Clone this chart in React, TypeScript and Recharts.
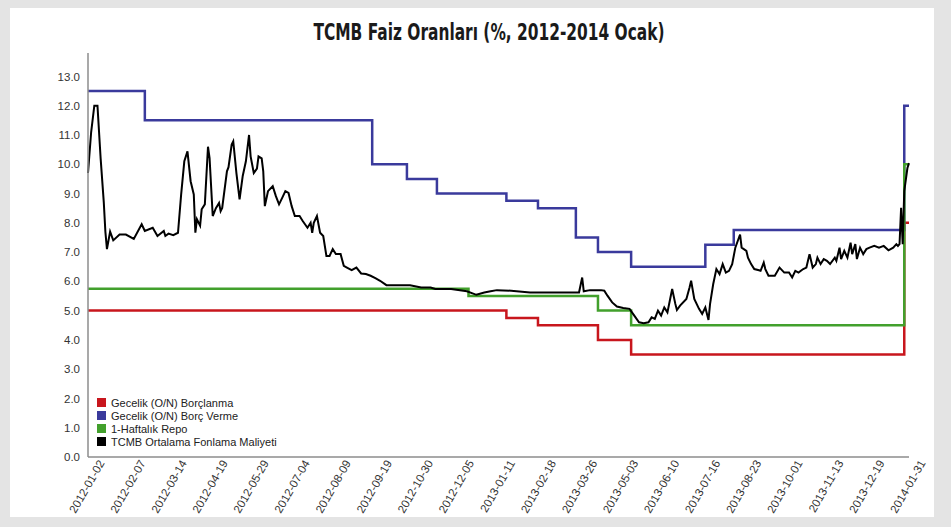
import { LineChart, Line, XAxis, YAxis } from "recharts";

// x is the business-day index from 2012-01-02 (0) to 2014-01-31 (520)
const TICK_INDEX = [0, 26, 52, 78, 104, 130, 156, 182, 208, 234, 260, 286, 312, 338, 364, 390, 416, 442, 468, 494, 520];
const TICK_LABELS = [
  "2012-01-02", "2012-02-07", "2012-03-14", "2012-04-19", "2012-05-29", "2012-07-04",
  "2012-08-09", "2012-09-19", "2012-10-30", "2012-12-05", "2013-01-11", "2013-02-18",
  "2013-03-26", "2013-05-03", "2013-06-10", "2013-07-16", "2013-08-23", "2013-10-01",
  "2013-11-13", "2013-12-19", "2014-01-31",
];
const Y_TICKS = [0, 1, 2, 3, 4, 5, 6, 7, 8, 9, 10, 11, 12, 13];

// step series: [index, rate]
const BORROWING: [number, number][] = [
  [0, 5.0], [265, 4.75], [285, 4.5], [323, 4.0], [344, 3.5], [517, 8.0], [520, 8.0],
];
const LENDING: [number, number][] = [
  [0, 12.5], [36, 11.5], [180, 10.0], [202, 9.5], [221, 9.0], [265, 8.75], [285, 8.5],
  [309, 7.5], [323, 7.0], [344, 6.5], [391, 7.25], [409, 7.75], [517, 12.0], [520, 12.0],
];
const REPO: [number, number][] = [
  [0, 5.75], [241, 5.5], [323, 5.0], [344, 4.5], [517, 10.0], [520, 10.0],
];

// TCMB average funding cost
const FUNDING: [number, number][] = [
  [0, 9.7], [2, 11.1], [4, 12.0], [6, 12.0], [8, 10.2], [10, 8.7], [11, 7.7], [12, 7.1],
  [14, 7.7], [16, 7.4], [20, 7.6], [24, 7.6], [29, 7.45], [34, 7.95], [36, 7.72], [41, 7.83],
  [44, 7.55], [48, 7.72], [49, 7.55], [51, 7.63], [54, 7.58], [57, 7.66], [59, 8.97], [61, 10.1],
  [63, 10.44], [65, 9.42], [67, 8.97], [68, 7.66], [69, 8.12], [71, 7.9], [72, 8.46], [74, 8.63],
  [76, 10.6], [77, 10.21], [79, 8.23], [81, 8.5], [83, 8.68], [84, 8.4], [85, 8.51], [88, 9.76],
  [89, 9.9], [91, 10.67], [92, 10.78], [94, 9.7], [96, 8.8], [98, 9.6], [100, 10.1], [102, 11.0],
  [103, 10.27], [105, 9.7], [107, 9.85], [108, 10.27], [110, 10.2], [111, 9.76], [112, 8.57],
  [114, 9.08], [117, 9.25], [119, 8.91], [121, 8.63], [123, 8.85], [125, 9.08], [127, 9.02],
  [129, 8.57], [131, 8.23], [134, 8.23], [136, 8.06], [139, 7.83], [141, 8.0], [142, 7.66],
  [143, 8.0], [145, 8.23], [147, 7.66], [149, 7.55], [151, 6.87], [153, 6.87], [155, 7.1],
  [157, 6.93], [160, 6.93], [162, 6.53], [164, 6.47], [167, 6.38], [170, 6.47], [173, 6.27],
  [176, 6.25], [179, 6.19], [182, 6.11], [185, 6.02], [189, 5.87], [195, 5.87], [204, 5.87],
  [211, 5.79], [217, 5.79], [220, 5.74], [230, 5.74], [240, 5.66], [246, 5.54], [251, 5.62],
  [255, 5.66], [259, 5.7], [268, 5.68], [280, 5.62], [291, 5.62], [301, 5.62], [311, 5.62],
  [313, 6.13], [314, 5.66], [318, 5.7], [325, 5.7], [327, 5.68], [329, 5.51], [332, 5.28],
  [335, 5.14], [339, 5.09], [343, 5.06], [346, 4.83], [349, 4.6], [352, 4.57], [355, 4.6],
  [357, 4.77], [359, 4.72], [361, 5.0], [363, 4.83], [365, 5.11], [367, 4.94], [370, 5.74],
  [372, 5.23], [373, 5.02], [375, 5.17], [379, 5.4], [381, 5.79], [382, 6.02], [384, 5.4],
  [387, 5.06], [389, 4.89], [391, 5.11], [393, 4.68], [394, 5.23], [396, 5.91], [398, 6.42],
  [400, 6.25], [402, 6.59], [404, 6.3], [406, 6.36], [408, 6.59], [410, 7.15], [413, 7.6],
  [414, 7.15], [417, 7.04], [418, 6.81], [420, 6.59], [422, 6.42], [425, 6.38], [426, 6.36],
  [428, 6.64], [429, 6.42], [431, 6.19], [435, 6.19], [438, 6.47], [441, 6.3], [444, 6.3],
  [446, 6.13], [448, 6.36], [450, 6.3], [453, 6.42], [455, 6.47], [457, 6.93], [459, 6.47],
  [461, 6.59], [462, 6.81], [464, 6.59], [466, 6.76], [468, 6.7], [470, 6.59], [473, 6.81],
  [474, 6.7], [476, 7.15], [477, 6.76], [479, 7.04], [481, 6.81], [483, 7.32], [484, 6.93],
  [486, 7.27], [487, 6.76], [489, 7.15], [491, 6.93], [493, 7.1], [495, 7.15], [498, 7.21],
  [501, 7.15], [504, 7.21], [507, 7.06], [510, 7.15], [512, 7.27], [513, 7.21], [514, 7.27],
  [515, 8.51], [516, 7.27], [517, 9.08], [519, 9.87], [520, 10.04],
];

const SERIES = [
  { name: "Gecelik (O/N) Borçlanma", color: "#c8161d", rows: BORROWING, step: true },
  { name: "Gecelik (O/N) Borç Verme", color: "#3a3a9c", rows: LENDING, step: true },
  { name: "1-Haftalık Repo", color: "#42a02c", rows: REPO, step: true },
  { name: "TCMB Ortalama Fonlama Maliyeti", color: "#000000", rows: FUNDING, step: false },
];

const FONT = "'Liberation Sans', Arial, sans-serif";

// rotated date label, shifted a bit right like the original
function DateTick({ x, y, payload }: { x?: number; y?: number; payload?: { value: number } }) {
  const k = TICK_INDEX.indexOf(payload?.value ?? -1);
  const tx = (x ?? 0) + 17;
  const ty = (y ?? 0) - 2;
  return (
    <text x={tx} y={ty} transform={`rotate(-60 ${tx} ${ty})`} textAnchor="end"
      fill="#333" fontSize={11.5} fontFamily={FONT}>
      {TICK_LABELS[k]}
    </text>
  );
}

export default function App() {
  return (
    <div style={{ position: "absolute", left: 0, top: 0, width: 951, height: 527, background: "#e4e4e4" }}>
      <div style={{ position: "absolute", left: 10, top: 8, width: 924, height: 509, background: "#fff" }} />
      {/* condensed heavy title: DejaVu Sans Bold squeezed horizontally */}
      <div style={{
        position: "absolute", left: 489, top: 19, whiteSpace: "nowrap",
        transform: "translateX(-50%) scaleX(0.67)", transformOrigin: "center",
        fontFamily: "'DejaVu Sans', sans-serif", fontWeight: 700, fontSize: 23, color: "#1a1a1a",
      }}>
        TCMB Faiz Oranları (%, 2012-2014 Ocak)
      </div>

      <div style={{ position: "absolute", left: 0, top: 0 }}>
        <LineChart width={951} height={527} margin={{ top: 53, right: 42, bottom: 10, left: 0 }}>
          <XAxis
            type="number"
            dataKey="i"
            domain={[0, 520]}
            ticks={TICK_INDEX}
            interval={0}
            tick={<DateTick />}
            tickLine={false}
            axisLine={{ stroke: "#8c8c8c", strokeWidth: 1.5 }}
            height={60}
          />
          <YAxis
            type="number"
            domain={[0, 13.8]}
            ticks={Y_TICKS}
            tickFormatter={(v: number) => v.toFixed(1)}
            width={88}
            tickLine={false}
            axisLine={{ stroke: "#8c8c8c", strokeWidth: 1.5 }}
            tick={{ fill: "#333", fontSize: 11.5, fontFamily: FONT }}
          />
          {SERIES.map(s => (
            <Line
              key={s.name}
              data={s.rows.map(([i, v]) => ({ i, v }))}
              dataKey="v"
              name={s.name}
              type={s.step ? "stepAfter" : "linear"}
              stroke={s.color}
              strokeWidth={s.step ? 2.5 : 2}
              dot={false}
              activeDot={false}
              isAnimationActive={false}
            />
          ))}
        </LineChart>
      </div>

      {/* legend in the lower-left corner of the plot */}
      <div style={{ position: "absolute", left: 97, top: 396, fontFamily: FONT, fontSize: 11, color: "#222" }}>
        {SERIES.map(s => (
          <div key={s.name} style={{ display: "flex", alignItems: "center", height: 13 }}>
            <div style={{ width: 9, height: 9, background: s.color, marginRight: 5 }} />
            {s.name}
          </div>
        ))}
      </div>
    </div>
  );
}
